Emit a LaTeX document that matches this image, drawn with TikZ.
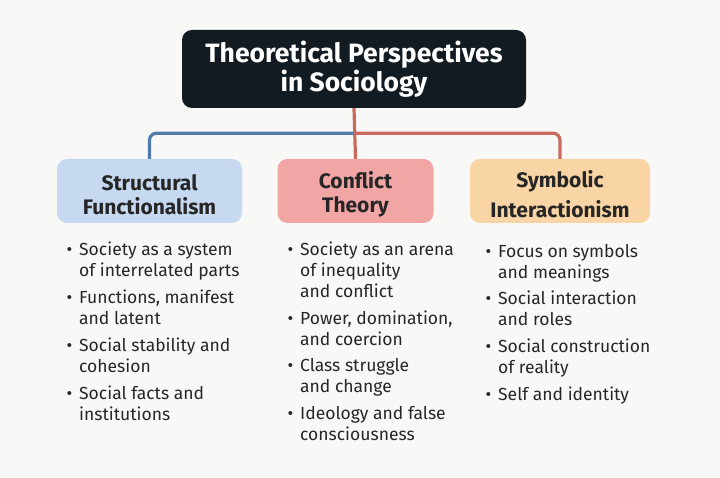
\documentclass[tikz,border=0pt]{standalone}
\usepackage{fontspec}
\setmainfont{Fira Sans}
\usetikzlibrary{positioning,calc}
\definecolor{bgc}{HTML}{F8F8F7}
\definecolor{titlec}{HTML}{121A22}
\definecolor{bluef}{HTML}{C6D9F1}
\definecolor{pinkf}{HTML}{F1A5A4}
\definecolor{peachf}{HTML}{F9D4A4}
\definecolor{bluel}{HTML}{4F7CAA}
\definecolor{redl}{HTML}{C96A5C}
\definecolor{txt}{HTML}{262626}
\tikzset{
  titlebox/.style={fill=titlec, rounded corners=10pt, minimum width=344pt, minimum height=78pt,
    text=white, align=center, font=\fontsize{26.5}{29}\selectfont\bfseries, inner sep=0pt},
  catbox/.style={rounded corners=10pt, minimum height=64pt, align=center, inner sep=0pt,
    text=txt, font=\fontsize{21}{24}\selectfont\bfseries},
  conn/.style={line width=3.2pt, rounded corners=7pt},
  item/.style={anchor=north west, align=left, inner sep=0pt, text=txt,
    font=\fontsize{17.5}{21}\selectfont},
}
\newcommand{\bul}{\llap{•\hspace{7pt}}}
\newcommand{\st}{\rule[-6pt]{0pt}{19pt}}
\newcommand{\cs}{\rule[-0.5pt]{0pt}{24pt}}
\begin{document}
\begin{tikzpicture}[x=1pt,y=-1pt]
\useasboundingbox[fill=bgc] (0,0) rectangle (720,478);
\node[titlebox] (title) at (354,69) {\st Theoretical Perspectives\\\st in Sociology};
\node[catbox, fill=bluef, minimum width=185pt] (sf) at (149.5,191) {\cs Structural\\\cs Functionalism};
\node[catbox, fill=pinkf, minimum width=156pt] (ct) at (355.5,191) {\cs Conflict\\\cs Theory};
\node[catbox, fill=peachf, minimum width=180pt] (si) at (560,191) {\cs Symbolic\\\cs Interactionism};
\coordinate (j) at ($(title.south)+(0,25)$);
\draw[conn, bluel] (j) -| (sf.north);
\draw[conn, redl] (j) -| (si.north);
\draw[conn, redl] (title.south) -- (ct.north);
% left column
\node[item] (l1) at (79,242) {\bul Society as a system\\of interrelated parts};
\node[item] (l2) at (79,290) {\bul Functions, manifest\\and latent};
\node[item] (l3) at (79,338) {\bul Social stability and\\cohesion};
\node[item] (l4) at (79,386) {\bul Social facts and\\institutions};
% center column
\node[item] (c1) at (300,242) {\bul Society as an arena\\of inequality\\and conflict};
\node[item] (c2) at (300,311) {\bul Power, domination,\\and coercion};
\node[item] (c3) at (300,358) {\bul Class struggle\\and change};
\node[item] (c4) at (300,406) {\bul Ideology and false\\consciousness};
% right column
\node[item] (r1) at (498,244) {\bul Focus on symbols\\and meanings};
\node[item] (r2) at (498,291) {\bul Social interaction\\and roles};
\node[item] (r3) at (498,339) {\bul Social construction\\of reality};
\node[item] (r4) at (498,387) {\bul Self and identity};
\end{tikzpicture}
\end{document}
